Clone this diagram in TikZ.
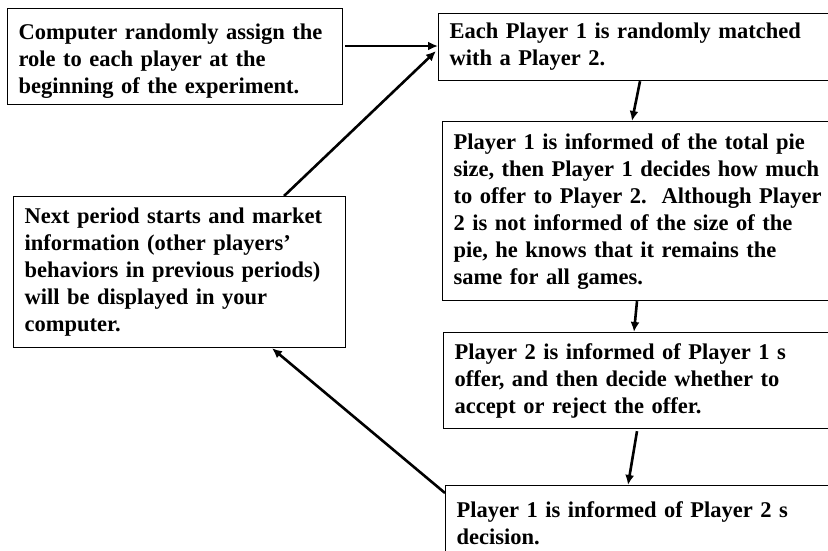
\documentclass[tikz,border=0pt]{standalone}
\usepackage{fontspec}
\setmainfont{Liberation Serif}
\usetikzlibrary{arrows.meta,calc}

\tikzset{
  stepbox/.style={draw, line width=1.2pt, rectangle, anchor=north west,
    inner xsep=11pt, inner ysep=0pt, align=left,
    font=\fontsize{22.5}{27}\selectfont\bfseries},
  flow/.style={line width=2.6pt, -{Latex[length=10pt,width=9pt]}}
}

\begin{document}
\begin{tikzpicture}[x=1pt, y=-1pt]
\useasboundingbox (0,0) rectangle (828,550);

% left column
\node[stepbox, minimum width=335pt, minimum height=96pt, text width=313pt]
  (assign) at (7,8)
  {\rule{0pt}{25pt}Computer randomly assign the\\role to each player at the\\beginning of the experiment.};
\node[stepbox, minimum width=332pt, minimum height=151pt, text width=310pt]
  (next) at (13,196)
  {Next period starts and market\\information (other players'\\behaviors in previous periods)\\will be displayed in your\\computer.};

% right column (runs past the right edge)
\node[stepbox, minimum width=397pt, minimum height=67pt, text width=375pt]
  (match) at (438,13)
  {Each Player 1 is randomly matched\\with a Player 2.};
\node[stepbox, minimum width=393pt, minimum height=179pt, text width=371pt]
  (offer) at (442,121)
  {Player 1 is informed of the total pie\\size, then Player 1 decides how much\\to offer to Player 2.\ \ Although Player\\2 is not informed of the size of the\\pie, he knows that it remains the\\same for all games.};
\node[stepbox, minimum width=392pt, minimum height=96pt, text width=370pt]
  (respond) at (443,332)
  {Player 2 is informed of Player 1 s\\offer, and then decide whether to\\accept or reject the offer.};
\node[stepbox, minimum width=390pt, minimum height=75pt, text width=368pt]
  (result) at (445,485)
  {Player 1 is informed of Player 2 s\\decision.};

% connectors
\draw[flow] ($(assign.north east)+(2,38)$) -- ($(match.north west)+(0,33)$);
\draw[flow] ($(next.north west)+(271,0)$) -- ($(match.north west)+(-2,38)$);
\draw[flow] ($(match.south west)+(202,0)$) -- ($(offer.north west)+(190,0)$);
\draw[flow] ($(offer.south west)+(195,0)$) -- ($(respond.north west)+(191,0)$);
\draw[flow] ($(respond.south west)+(194,2)$) -- ($(result.north west)+(183,0)$);
\draw[flow] ($(result.north west)+(0,8)$) -- ($(next.south west)+(259,0)$);
\end{tikzpicture}
\end{document}
